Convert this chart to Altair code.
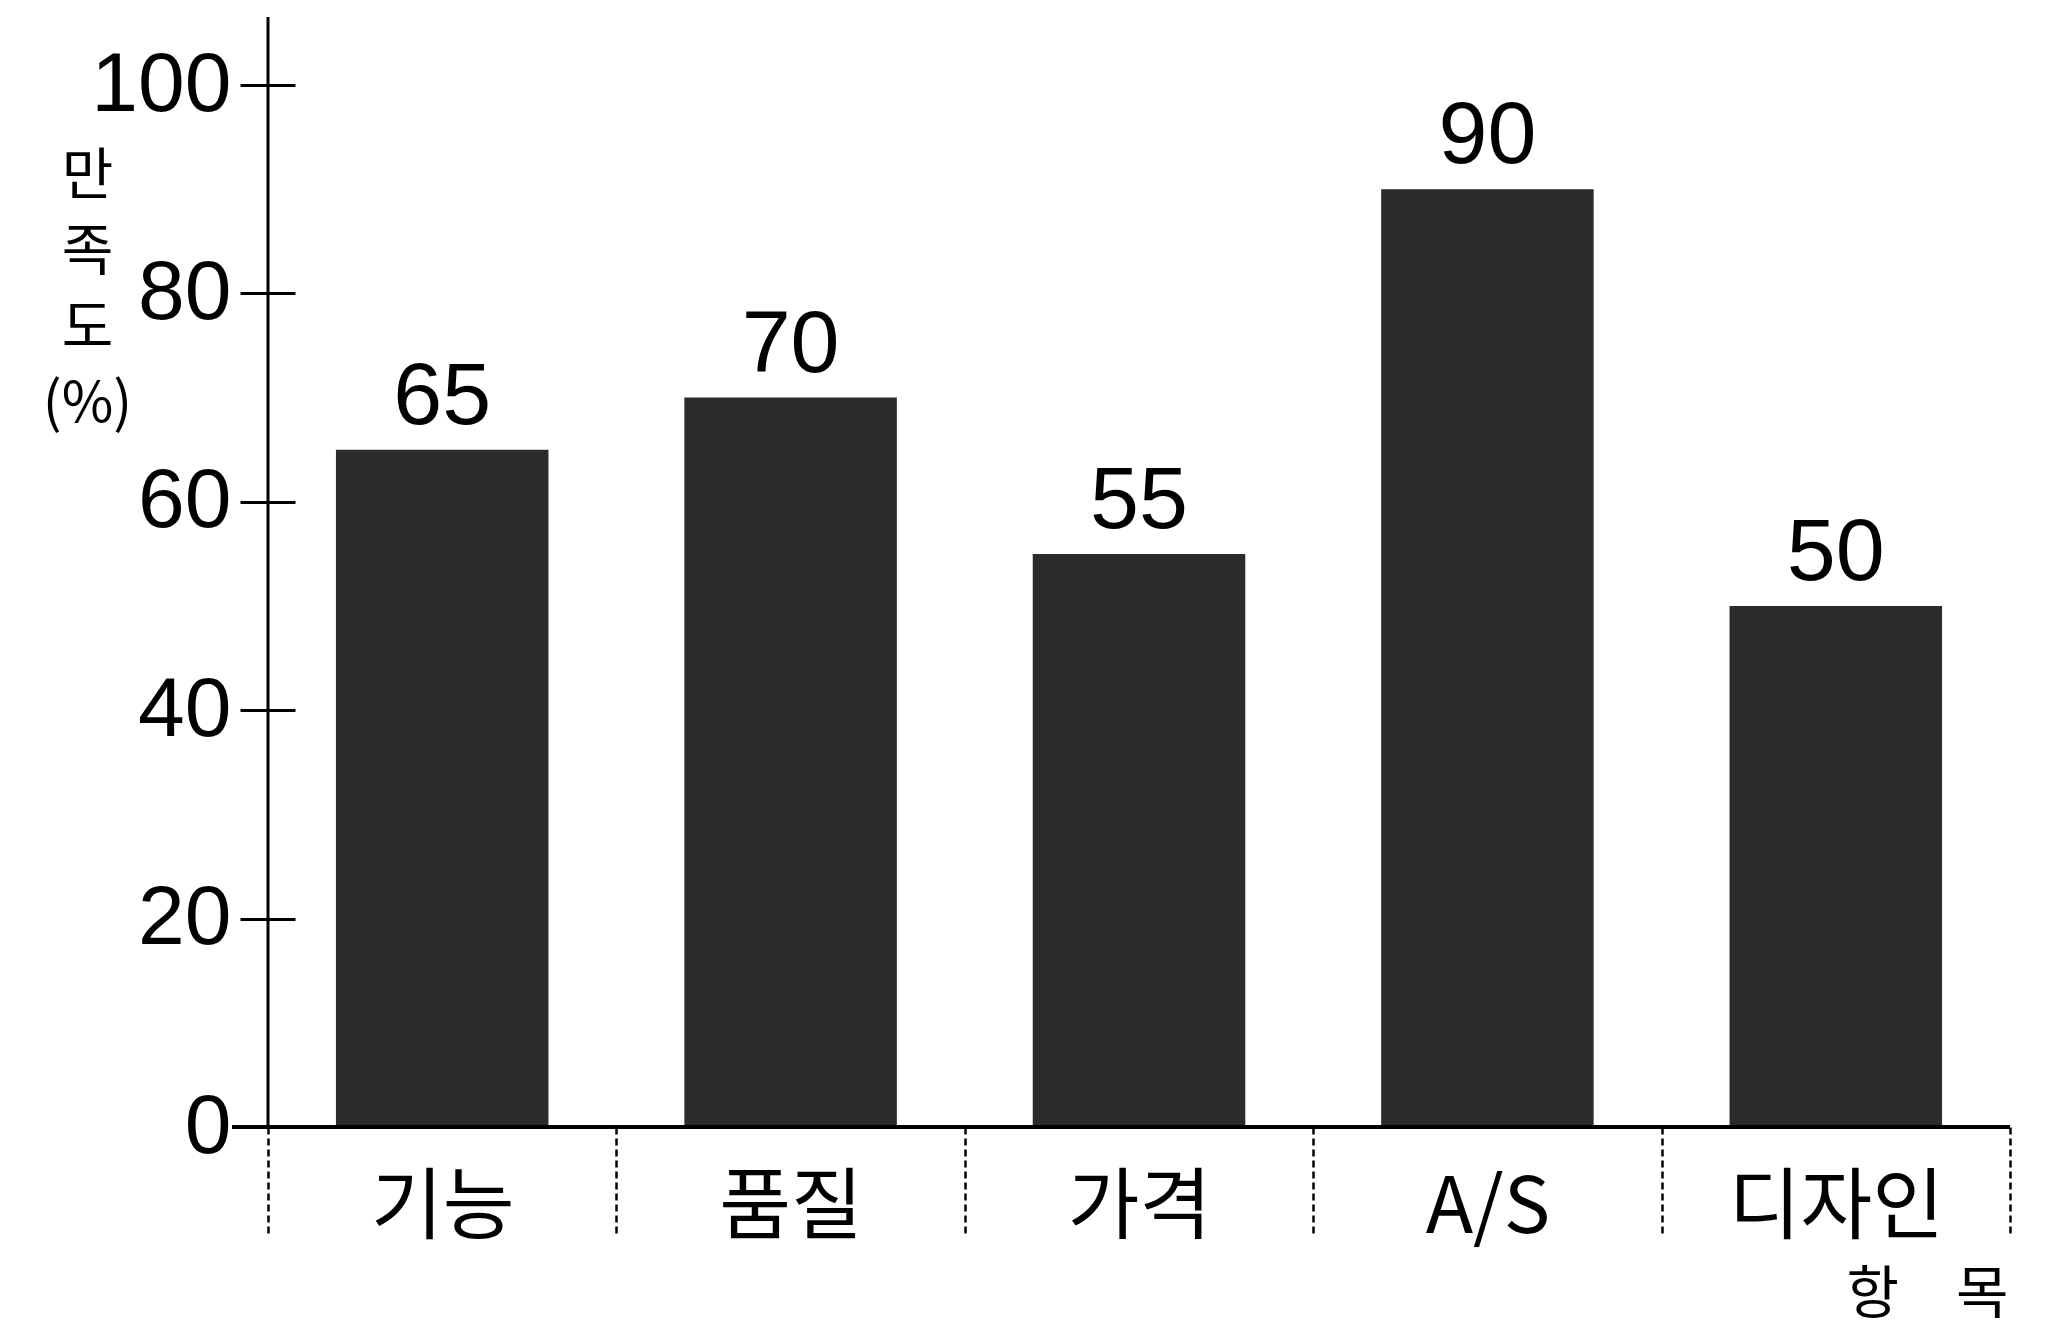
import altair as alt
import pandas as pd

categories = ["기능", "품질", "가격", "A/S", "디자인"]
values = [65, 70, 55, 90, 50]
y_ticks = [0, 20, 40, 60, 80, 100]
baseline = [0]

KR = "Noto Sans CJK KR"
NUM = "Liberation Sans Narrow, Liberation Sans, sans-serif"

W, H = 1742, 1042

df = pd.DataFrame({"항목": categories, "만족도": values})
base_df = pd.DataFrame({"b": baseline})

x_enc = alt.X(
    "항목:N",
    sort=categories,
    scale=alt.Scale(paddingInner=0, paddingOuter=0),
    axis=alt.Axis(
        title="항\u2003목",
        titleFont=KR,
        titleFontSize=57,
        titleFontWeight="normal",
        titleColor="black",
        titleAlign="right",
        titleBaseline="middle",
        titleAnchor="end",
        titleX=W - 2,
        titleY=168,
        labelAngle=0,
        labelFont=KR,
        labelFontSize=78,
        labelColor="black",
        labelPadding=-65,
        labelBaseline="top",
        labelLimit=0,
        domain=False,
        tickBand="extent",
        tickSize=108,
        tickWidth=2.5,
        tickColor="black",
        tickDash=[7, 4],
        grid=False,
    ),
)

y_enc = alt.Y(
    "만족도:Q",
    scale=alt.Scale(domain=[0, 100], nice=False),
    axis=alt.Axis(
        values=y_ticks,
        domain=False,
        offset=-27,
        tickSize=55,
        tickWidth=3,
        tickColor="black",
        labelFont=NUM,
        labelFontSize=84,
        labelColor="black",
        labelPadding=9,
        grid=False,
        title=["만", "족", "도", "(%)"],
        titleAngle=0,
        titleFont=KR,
        titleFontSize=56,
        titleFontWeight="normal",
        titleColor="black",
        titleAlign="center",
        titleBaseline="top",
        titleLineHeight=76,
        titleX=-208,
        titleY=64,
    ),
)

bars = alt.Chart(df).mark_bar(
    width=alt.RelativeBandSize(0.61), color="#2b2b2b"
).encode(x=x_enc, y=y_enc)

labels = alt.Chart(df).mark_text(
    font=NUM, fontSize=88, color="black", baseline="alphabetic", dy=-26
).encode(x=alt.X("항목:N", sort=categories), y="만족도:Q", text="만족도:Q")

y_line = alt.Chart(base_df).mark_rule(color="black", strokeWidth=3).encode(
    x=alt.value(0), y=alt.value(-68), y2=alt.value(H)
)

x_line = alt.Chart(base_df).mark_rule(color="black", strokeWidth=4).encode(
    y=alt.datum(0), x=alt.value(-36), x2=alt.value(W)
)

chart = (
    alt.layer(bars, labels, y_line, x_line)
    .properties(
        width=W,
        height=H,
        padding={"left": 260, "top": 77, "right": 30, "bottom": 206},
        autosize=alt.AutoSizeParams(type="none"),
        background="white",
    )
    .configure_view(stroke=None)
)

chart.save("out.html", embed_options={"renderer": "svg", "actions": False})
